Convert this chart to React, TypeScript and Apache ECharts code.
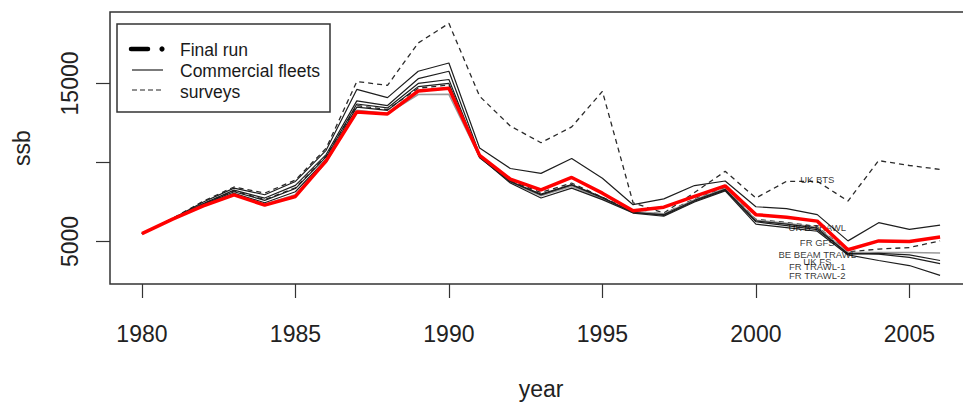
import React, { useEffect, useRef } from "react";
import * as echarts from "echarts";

const years = [1980, 1981, 1982, 1983, 1984, 1985, 1986, 1987, 1988, 1989, 1990, 1991, 1992, 1993, 1994, 1995, 1996, 1997, 1998, 1999, 2000, 2001, 2002, 2003, 2004, 2005, 2006];

const finalRun = [5500, 6420, 7250, 7950, 7300, 7850, 10100, 13200, 13070, 14520, 14700, 10450, 8950, 8270, 9050, 8060, 6950, 7170, 7850, 8520, 6700, 6540, 6290, 4480, 5040, 5000, 5290];

// commercial fleets
const ukBTrawl = [5500, 6450, 7500, 8380, 7960, 8800, 10770, 14620, 14100, 15770, 16290, 10920, 9620, 9310, 10250, 9000, 7330, 7700, 8540, 8830, 7200, 7080, 6700, 5040, 6190, 5770, 6040];
const beBeamTrawl = [5500, 6400, 7250, 7950, 7350, 7950, 10000, 13300, 13100, 14300, 14310, 10350, 8750, 7900, 8500, 7700, 6900, 6750, 7650, 8350, 6350, 6150, 5900, 4310, 4310, 4310, 4270];
const ukFS = [5500, 6420, 7300, 8050, 7450, 8150, 10200, 13500, 13300, 14800, 15000, 10300, 8800, 8000, 8600, 7800, 6820, 6700, 7600, 8300, 6300, 6100, 5850, 4200, 4250, 4150, 3800];
const frTrawl1 = [5500, 6440, 7400, 8250, 7750, 8550, 10500, 13900, 13600, 15300, 15770, 10500, 8800, 7950, 8580, 7750, 6850, 6650, 7550, 8250, 6250, 6000, 5750, 4250, 4200, 4000, 3600];
const frTrawl2 = [5500, 6430, 7350, 8150, 7600, 8350, 10350, 13700, 13450, 15000, 15250, 10350, 8700, 7750, 8380, 7650, 6800, 6600, 7500, 8200, 6100, 5880, 5650, 4150, 3800, 3480, 2860];

// surveys
const ukBTS = [5500, 6470, 7550, 8450, 8060, 8890, 10900, 15120, 14880, 17560, 18800, 14190, 12310, 11250, 12250, 14500, 7450, 6800, 8100, 9440, 7750, 8810, 8810, 7560, 10120, 9810, 9560];
const frGFS = [5500, 6440, 7380, 8200, 7650, 8400, 10400, 13600, 13350, 14700, 14900, 10400, 8850, 8100, 8700, 7800, 6900, 6750, 7700, 8400, 6400, 6200, 5950, 4350, 4520, 4620, 5040];

const fleetNames = ["UK B TRAWL", "BE BEAM TRAWL", "UK FS", "FR TRAWL-1", "FR TRAWL-2"];
const fleetValues = [ukBTrawl, beBeamTrawl, ukFS, frTrawl1, frTrawl2];
const surveyNames = ["UK BTS", "FR GFS"];
const surveyValues = [ukBTS, frGFS];

const labelYear = 2002;
const labelNames = ["UK BTS", "UK B TRAWL", "FR GFS", "BE BEAM TRAWL", "UK FS", "FR TRAWL-1", "FR TRAWL-2"];
const labelValues = [8940, 5875, 4940, 4190, 3720, 3420, 2875];

const xTicks = [1980, 1985, 1990, 1995, 2000, 2005];
const yTicks = [5000, 10000, 15000];
const yLabels = [5000, 15000];

const legendLabels = ["Final run", "Commercial fleets", "surveys"];

const FONT = "'Liberation Sans', Arial, Helvetica, sans-serif";

export default function App() {
  const ref = useRef<HTMLDivElement>(null);
  useEffect(() => {
    if (!ref.current) return;
    document.body.style.margin = "0";
    document.body.style.overflow = "hidden";
    document.documentElement.style.overflow = "hidden";
    const chart = echarts.init(ref.current, undefined, { renderer: "svg" });
    const pair = (vals: number[]) => years.map((y, i) => [y, vals[i]]);

    const series: any[] = [];
    surveyNames.forEach((n, k) => {
      series.push({
        name: n,
        type: "line",
        data: pair(surveyValues[k]),
        symbol: "none",
        silent: true,
        lineStyle: { color: "#2a2a2a", width: 1.3, type: [5, 4] },
        z: 2,
      });
    });
    fleetNames.forEach((n, k) => {
      series.push({
        name: n,
        type: "line",
        data: pair(fleetValues[k]),
        symbol: "none",
        silent: true,
        lineStyle: {
          color: n === "BE BEAM TRAWL" ? "#9a9a9a" : "#1e1e1e",
          width: n === "BE BEAM TRAWL" ? 1.6 : 1.2,
        },
        z: 3,
      });
    });
    series.push({
      name: "Final run",
      type: "line",
      data: pair(finalRun),
      symbol: "none",
      silent: true,
      lineStyle: { color: "#ff0000", width: 3.5 },
      z: 5,
    });
    series.push({
      name: "labels",
      type: "scatter",
      data: labelNames.map((n, i) => ({ value: [labelYear, labelValues[i]], name: n })),
      symbolSize: 1,
      itemStyle: { color: "transparent" },
      silent: true,
      z: 4,
      label: {
        show: true,
        position: "inside",
        formatter: (p: any) => p.name,
        color: "#000",
        textBorderWidth: 0,
        textBorderColor: "transparent",
        fontSize: 9.5,
        fontFamily: FONT,
      },
    });

    const legendGraphic: any[] = [
      {
        type: "rect",
        shape: { x: 117, y: 24, width: 213, height: 88 },
        style: { fill: "#fff", stroke: "#333", lineWidth: 1.5 },
        z: 10,
      },
      {
        type: "line",
        shape: { x1: 131, y1: 49, x2: 148, y2: 49 },
        style: { stroke: "#000", lineWidth: 4.5, lineCap: "round" },
        z: 11,
      },
      { type: "circle", shape: { cx: 162, cy: 49, r: 2.6 }, style: { fill: "#000" }, z: 11 },
      {
        type: "line",
        shape: { x1: 132, y1: 70, x2: 163, y2: 70 },
        style: { stroke: "#222", lineWidth: 1.2 },
        z: 11,
      },
      {
        type: "line",
        shape: { x1: 132, y1: 90, x2: 163, y2: 90 },
        style: { stroke: "#222", lineWidth: 1.2, lineDash: [5, 3] },
        z: 11,
      },
    ];
    legendLabels.forEach((t, i) => {
      legendGraphic.push({
        type: "text",
        x: 180,
        y: 50 + i * 21,
        style: {
          text: t,
          fill: "#1a1a1a",
          fontSize: 17.5,
          fontFamily: FONT,
          verticalAlign: "middle",
          align: "left",
        },
        z: 11,
      });
    });

    chart.setOption({
      animation: false,
      backgroundColor: "#fff",
      textStyle: { fontFamily: FONT },
      grid: { left: 110, top: 12, width: 862, height: 275, show: true, borderColor: "#333", borderWidth: 1.5, backgroundColor: "transparent" },
      xAxis: {
        type: "value",
        min: 1978.96,
        max: 2007.04,
        name: "year",
        nameLocation: "middle",
        nameGap: 93,
        nameTextStyle: { fontSize: 23, color: "#222", fontFamily: FONT },
        axisLine: { show: false },
        splitLine: { show: false },
        axisTick: { show: true, length: 14, lineStyle: { color: "#333", width: 1.2 }, customValues: xTicks },
        axisLabel: { fontSize: 23, color: "#222", margin: 38, fontFamily: FONT, customValues: xTicks, formatter: (v: number) => String(v) },
      },
      yAxis: {
        type: "value",
        min: 2313,
        max: 19519,
        name: "ssb",
        nameLocation: "middle",
        nameGap: 77,
        nameTextStyle: { fontSize: 23, color: "#222", fontFamily: FONT },
        axisLine: { show: false },
        splitLine: { show: false },
        axisTick: { show: true, length: 14, lineStyle: { color: "#333", width: 1.2 }, customValues: yTicks },
        axisLabel: { fontSize: 23, color: "#222", margin: 29, rotate: 90, fontFamily: FONT, customValues: yLabels, formatter: (v: number) => String(v) },
      },
      graphic: legendGraphic,
      series,
    });
    return () => chart.dispose();
  }, []);
  return (
    <div style={{ position: "absolute", left: 0, top: 0, width: 963, height: 405, overflow: "hidden" }}>
      <div ref={ref} style={{ width: 984, height: 405 }} />
    </div>
  );
}
